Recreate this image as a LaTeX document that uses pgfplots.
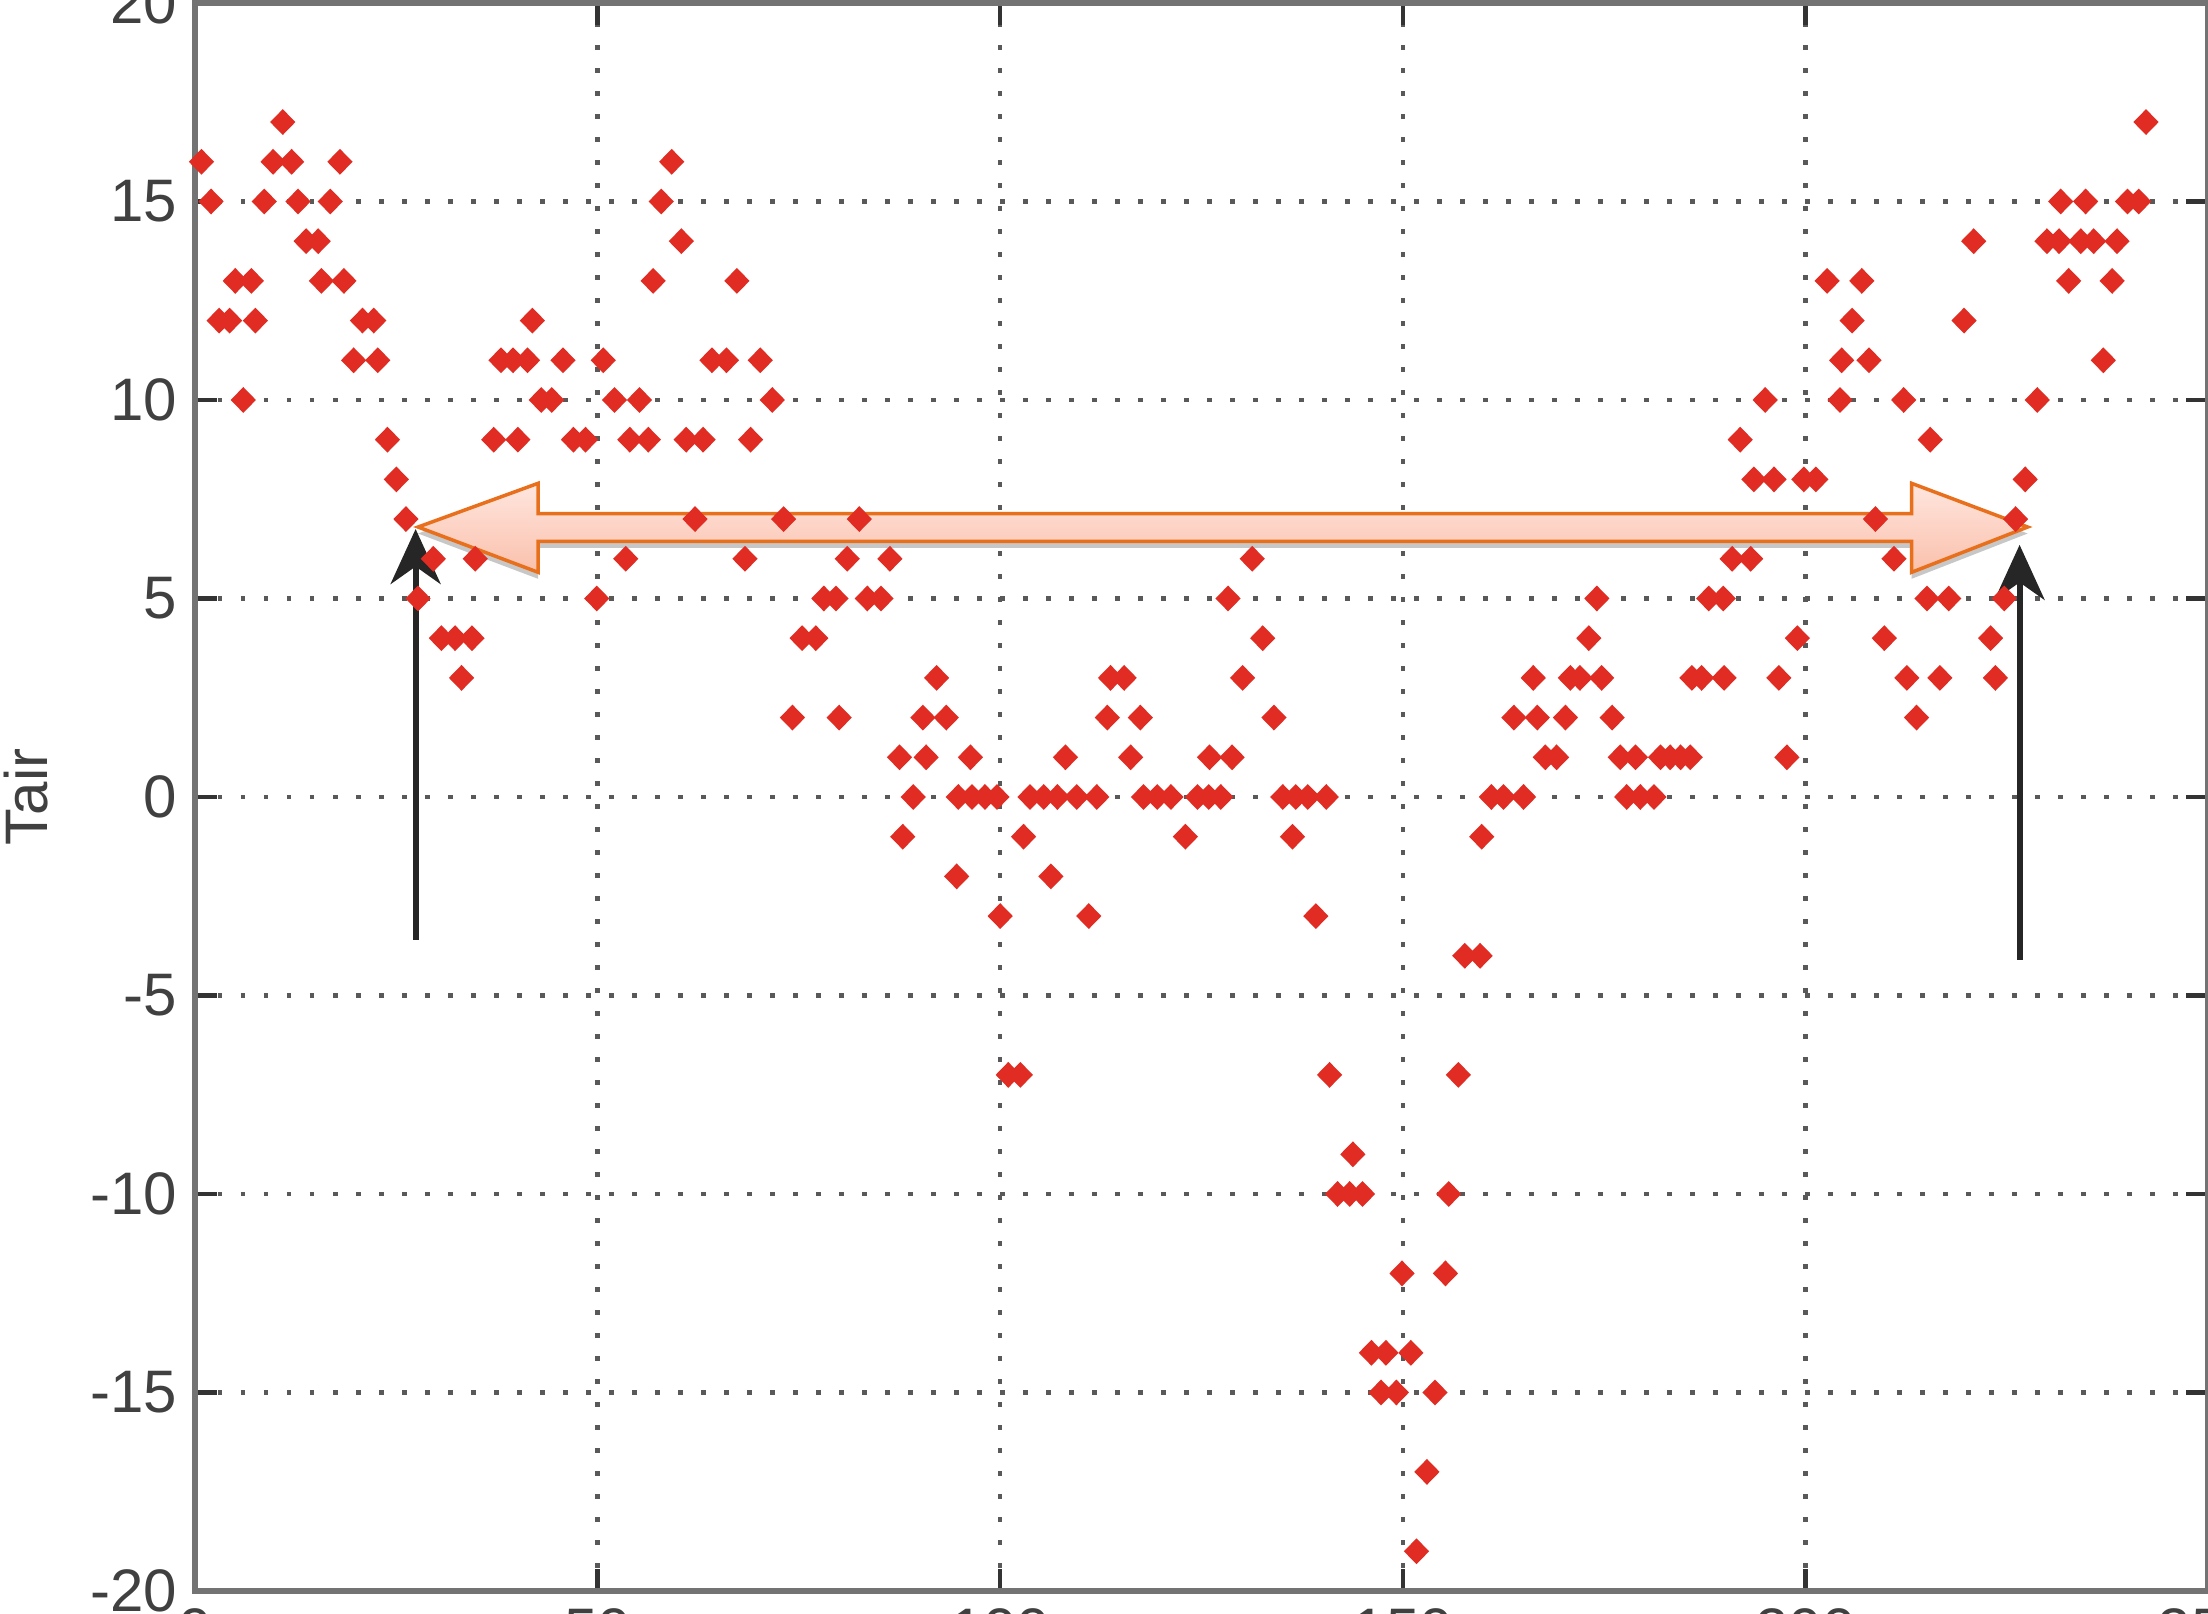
\documentclass[border=0pt]{standalone}
\usepackage{fontspec}
\setmainfont{Liberation Sans}
\usepackage{pgfplots}
\pgfplotsset{compat=1.18}
\usetikzlibrary{arrows.meta}

\definecolor{dotred}{RGB}{224,44,34}
\definecolor{arrowedge}{RGB}{232,112,28}
\definecolor{arrowtop}{RGB}{255,230,222}
\definecolor{arrowbot}{RGB}{250,192,172}

\begin{document}
\begin{tikzpicture}
\begin{axis}[
    name=ax,
    scale only axis,
    width=402.6pt, height=317.6pt,
    xmin=0, xmax=250, ymin=-20, ymax=20,
    xtick={0,50,100,150,200,250},
    xticklabels={0,50,100,150,200,250},
    ytick={-20,-15,-10,-5,0,5,10,15,20},
    yticklabels={-20,-15,-10,-5,0,5,10,15,20},
    grid=major,
    major grid style={black!65, line width=0.9pt, dash pattern=on 0.9pt off 3.7pt},
    axis line style={black!55, line width=1.3pt},
    tick align=inside,
    major tick length=4.4pt,
    tick style={black!80, line width=0.9pt},
    ticklabel style={font=\fontsize{12}{14}\selectfont, text=black!75},
]
\addplot[only marks, mark=diamond*, mark size=2.3pt,
    mark options={xscale=1.3, fill=dotred, draw=dotred}] coordinates {
(0.8,16) (2,15) (3,12) (4.3,12) (5,13) (6,10) (7,13) (7.5,12) (8.6,15) (9.7,16)
(10.9,17) (12,16) (12.8,15) (13.8,14) (15.3,14) (15.7,13) (16.8,15) (18,16) (18.5,13) (19.7,11)
(20.8,12) (22.2,12) (22.7,11) (23.9,9) (25,8) (26.2,7) (27.7,5) (29.6,6) (30.6,4) (32.3,4)
(33.1,3) (34.4,4) (34.8,6) (37.1,9) (38,11) (39.5,11) (40.1,9) (41.3,11) (41.9,12) (43,10)
(44.3,10) (45.7,11) (47,9) (48.5,9) (49.9,5) (50.7,11)
(52.1,10) (53.5,6) (54,9) (55.2,10) (56.3,9) (56.9,13) (57.9,15) (59.2,16) (60.4,14) (61,9)
(62.1,7) (63.1,9) (64.2,11) (66,11) (67.3,13) (68.3,6) (69,9) (70.2,11) (71.7,10) (73.1,7)
(74.2,2) (75.4,4) (77.1,4) (78.1,5) (79.6,5) (80,2) (81,6) (82.5,7) (83.5,5) (85.2,5)
(86.3,6) (87.5,1) (87.9,-1) (89.2,0) (90.4,2) (90.8,1) (92.1,3) (93.3,2) (94.6,-2) (94.8,0)
(96.3,1) (96.5,0) (98.1,0) (99.6,0)
(100,-3) (101,-7) (102.5,-7) (102.9,-1) (103.7,0) (105.4,0) (106.3,-2) (107.1,0) (108.1,1) (109.5,0)
(111,-3) (112,0) (113.3,2) (113.7,3) (115.4,3) (116.2,1) (117.4,2) (117.8,0) (119.5,0) (121.2,0)
(123,-1) (124.5,0) (125.9,0) (126,1) (127.4,0) (128.3,5) (128.8,1) (130.1,3) (131.3,6) (132.6,4)
(134,2) (135.1,0) (136.3,-1) (136.7,0) (138.2,0) (139.2,-3) (140.5,0) (140.9,-7) (141.9,-10) (143.4,-10)
(143.8,-9) (145,-10) (146.1,-14) (147.3,-15) (147.9,-14) (149.2,-15) (149.9,-12)
(151,-14) (151.7,-19) (153,-17) (154,-15) (155.3,-12) (155.7,-10) (156.9,-7) (157.7,-4) (159.6,-4) (159.8,-1)
(161,0) (162.5,0) (163.8,2) (165,0) (166.2,3) (166.7,2) (167.7,1) (169.1,1) (170.2,2) (170.8,3)
(172,3) (173.1,4) (174.1,5) (174.7,3) (176,2) (177,1) (177.8,0) (178.9,1) (179.5,0) (181.2,0)
(182,1) (183.2,1) (184.5,1) (185.7,1) (185.9,3) (187.1,3) (188,5) (189.8,5) (189.9,3) (190.9,6)
(191.9,9) (193.2,6) (193.6,8) (195,10) (196.1,8) (196.7,3) (197.7,1) (199,4) (199.8,8)
(201.3,8) (202.7,13) (204.3,10) (204.5,11) (205.8,12) (207,13) (207.9,11) (208.7,7) (209.8,4) (211,6)
(212.2,10) (212.6,3) (213.8,2) (215.1,5) (215.5,9) (216.7,3) (217.8,5) (219.7,12) (220.9,14) (223,4)
(223.6,3) (224.7,5) (226.1,7) (227.3,8) (228.8,10) (230,14) (231.5,14) (231.7,15) (232.7,13) (234.2,14)
(234.8,15) (235.8,14) (237,11) (238.1,13) (238.7,14) (240,15) (241.4,15) (242.3,17)
};

% double block arrow (annotation)
\fill[black, opacity=0.22] ([yshift=-1.3pt]axis cs:27.7,6.8) -- ([yshift=-1.3pt]axis cs:42.6,7.9)
  -- ([yshift=-1.3pt]axis cs:42.6,7.14) -- ([yshift=-1.3pt]axis cs:213.2,7.14)
  -- ([yshift=-1.3pt]axis cs:213.2,7.9) -- ([yshift=-1.3pt]axis cs:227.6,6.8)
  -- ([yshift=-1.3pt]axis cs:213.2,5.66) -- ([yshift=-1.3pt]axis cs:213.2,6.44)
  -- ([yshift=-1.3pt]axis cs:42.6,6.44) -- ([yshift=-1.3pt]axis cs:42.6,5.66) -- cycle;
\path[draw=arrowedge, line width=0.7pt, line join=miter, top color=arrowtop, bottom color=arrowbot]
  (axis cs:27.7,6.8) -- (axis cs:42.6,7.9) -- (axis cs:42.6,7.14) -- (axis cs:213.2,7.14)
  -- (axis cs:213.2,7.9) -- (axis cs:227.6,6.8) -- (axis cs:213.2,5.66) -- (axis cs:213.2,6.44)
  -- (axis cs:42.6,6.44) -- (axis cs:42.6,5.66) -- cycle;

% black pointer arrows
\draw[black!85, line width=1.2pt, -{Stealth[length=11pt, width=10pt, inset=3.5pt]}]
  (axis cs:27.4,-3.6) -- (axis cs:27.4,6.75);
\draw[black!85, line width=1.2pt, -{Stealth[length=11pt, width=10pt, inset=3.5pt]}]
  (axis cs:226.6,-4.1) -- (axis cs:226.6,6.35);
\end{axis}
\node[rotate=90, anchor=base, font=\fontsize{12}{14}\selectfont, text=black!75]
  at ([xshift=-29.5pt]ax.west) {Tair};
\pgfresetboundingbox
\path[use as bounding box] ([xshift=-39pt,yshift=-4.6pt]ax.south west) rectangle ([yshift=0.6pt]ax.north east);
\end{tikzpicture}
\end{document}
